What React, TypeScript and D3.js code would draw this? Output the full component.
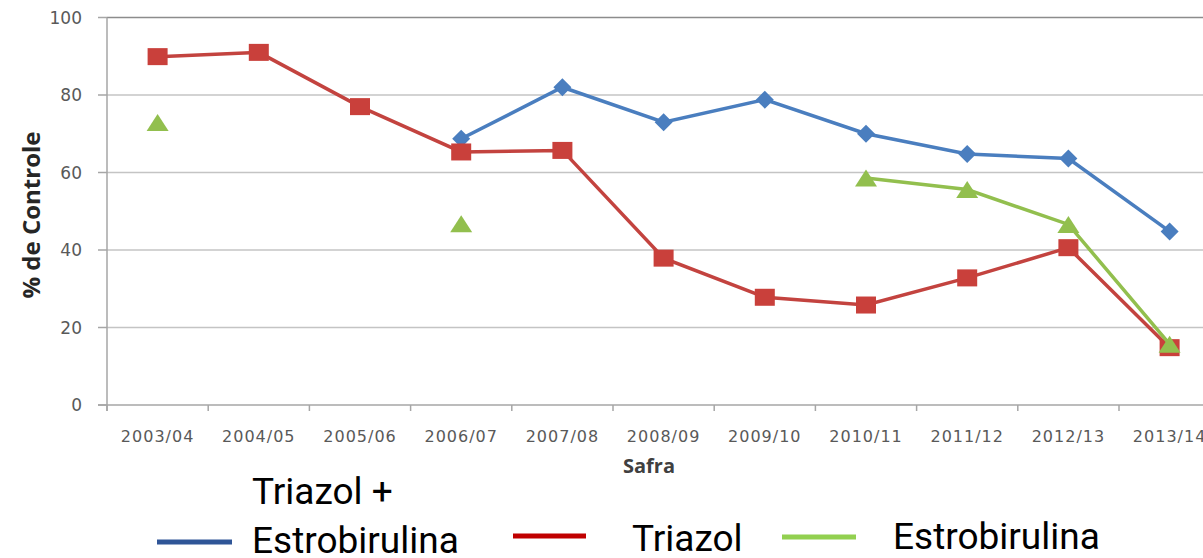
import * as d3 from 'd3';

const categories = ['2003/04', '2004/05', '2005/06', '2006/07', '2007/08', '2008/09', '2009/10', '2010/11', '2011/12', '2012/13', '2013/14'];
const triazolEstro = [null, null, null, 68.7, 82, 73, 78.8, 70, 64.8, 63.6, 44.8];
const triazol = [89.9, 91, 77, 65.3, 65.7, 37.9, 27.8, 25.8, 32.8, 40.6, 14.8];
const estro = [72.9, null, null, 46.8, null, null, null, 58.6, 55.6, 46.6, 15.7];
const yTicks = [0, 20, 40, 60, 80, 100];

const W = 1203;
const H = 558;

const x = d3.scaleBand<string>().domain(categories).range([107, 107 + 11 * 101.2]).padding(0);
const y = d3.scaleLinear().domain([0, 100]).range([405, 17.5]);
const cx = (c: string) => (x(c) ?? 0) + x.bandwidth() / 2;

const lineGen = d3
  .line<number | null>()
  .defined((d) => d != null)
  .x((_, i) => cx(categories[i]))
  .y((d) => y(d as number));

const tickFont = 'DejaVu Sans, sans-serif';

export default function App() {
  const pts = (vals: (number | null)[]) =>
    vals.map((v, i) => ({ v, c: categories[i] })).filter((p) => p.v != null) as { v: number; c: string }[];

  return (
    <svg width={W} height={H} style={{ position: 'absolute', left: 0, top: 0, background: '#fff' }}>
      {/* gridlines */}
      {yTicks.filter((t) => t > 0).map((t) => (
        <line key={t} x1={107} x2={W} y1={y(t)} y2={y(t)} stroke={t === 100 ? '#8c8c8c' : '#c4c4c4'} strokeWidth={1.5} />
      ))}
      {/* axes */}
      <line x1={107} x2={107} y1={y(100)} y2={y(0) + 6} stroke="#a6a6a6" strokeWidth={1.5} />
      <line x1={98} x2={W} y1={y(0)} y2={y(0)} stroke="#a6a6a6" strokeWidth={1.5} />
      {yTicks.map((t) => (
        <g key={t}>
          <line x1={98} x2={107} y1={y(t)} y2={y(t)} stroke="#a6a6a6" strokeWidth={1.5} />
          <text x={82} y={y(t)} dy="0.36em" textAnchor="end" fontFamily={tickFont} fontSize={17} fill="#595959">
            {t}
          </text>
        </g>
      ))}
      {categories.map((c, i) => (
        <g key={c}>
          <line x1={x(c)} x2={x(c)} y1={y(0)} y2={y(0) + 6} stroke="#a6a6a6" strokeWidth={1.5} />
          <text x={cx(c)} y={442} textAnchor="middle" fontFamily={tickFont} fontSize={16} letterSpacing={1} fill="#595959">
            {c}
          </text>
          {i === categories.length - 1 ? null : null}
        </g>
      ))}
      <text x={649} y={473} textAnchor="middle" fontFamily="Open Sans, sans-serif" fontWeight="bold" fontSize={20} fill="#404040">
        Safra
      </text>
      <text
        transform={`translate(40, 215) rotate(-90)`}
        textAnchor="middle"
        fontFamily="Open Sans, sans-serif"
        fontWeight="bold"
        fontSize={24}
        fill="#262626"
      >
        % de Controle
      </text>

      {/* Triazol + Estrobirulina */}
      <path d={lineGen(triazolEstro) ?? ''} fill="none" stroke="#4a7ebf" strokeWidth={3.5} />
      {pts(triazolEstro).map((p) => (
        <path key={p.c} transform={`translate(${cx(p.c)},${y(p.v)})`} d="M0,-9L9,0L0,9L-9,0Z" fill="#4a7ebf" />
      ))}

      {/* Triazol */}
      <path d={lineGen(triazol) ?? ''} fill="none" stroke="#c3433f" strokeWidth={3.5} />
      {pts(triazol).map((p) => (
        <rect key={p.c} x={cx(p.c) - 10} y={y(p.v) - 8.5} width={20} height={17} fill="#c9403b" />
      ))}

      {/* Estrobirulina */}
      <path d={lineGen(estro) ?? ''} fill="none" stroke="#92bf4e" strokeWidth={3.5} />
      {pts(estro).map((p) => (
        <path key={p.c} transform={`translate(${cx(p.c)},${y(p.v)})`} d="M0,-8.5L11,8.5L-11,8.5Z" fill="#92bf4e" />
      ))}

      {/* legend */}
      <line x1={157} x2={232} y1={542} y2={542} stroke="#2f5597" strokeWidth={5} />
      <text x={252} y={504} fontFamily="Roboto, sans-serif" fontSize={37} fill="#000">
        Triazol +
      </text>
      <text x={252} y={553} fontFamily="Roboto, sans-serif" fontSize={37} fill="#000">
        Estrobirulina
      </text>
      <line x1={513} x2={586} y1={536} y2={536} stroke="#c00000" strokeWidth={5} />
      <text x={632} y={551} fontFamily="Roboto, sans-serif" fontSize={37} fill="#000">
        Triazol
      </text>
      <line x1={782} x2={856} y1={537} y2={537} stroke="#92d050" strokeWidth={5} />
      <text x={893} y={549} fontFamily="Roboto, sans-serif" fontSize={37} fill="#000">
        Estrobirulina
      </text>
    </svg>
  );
}
